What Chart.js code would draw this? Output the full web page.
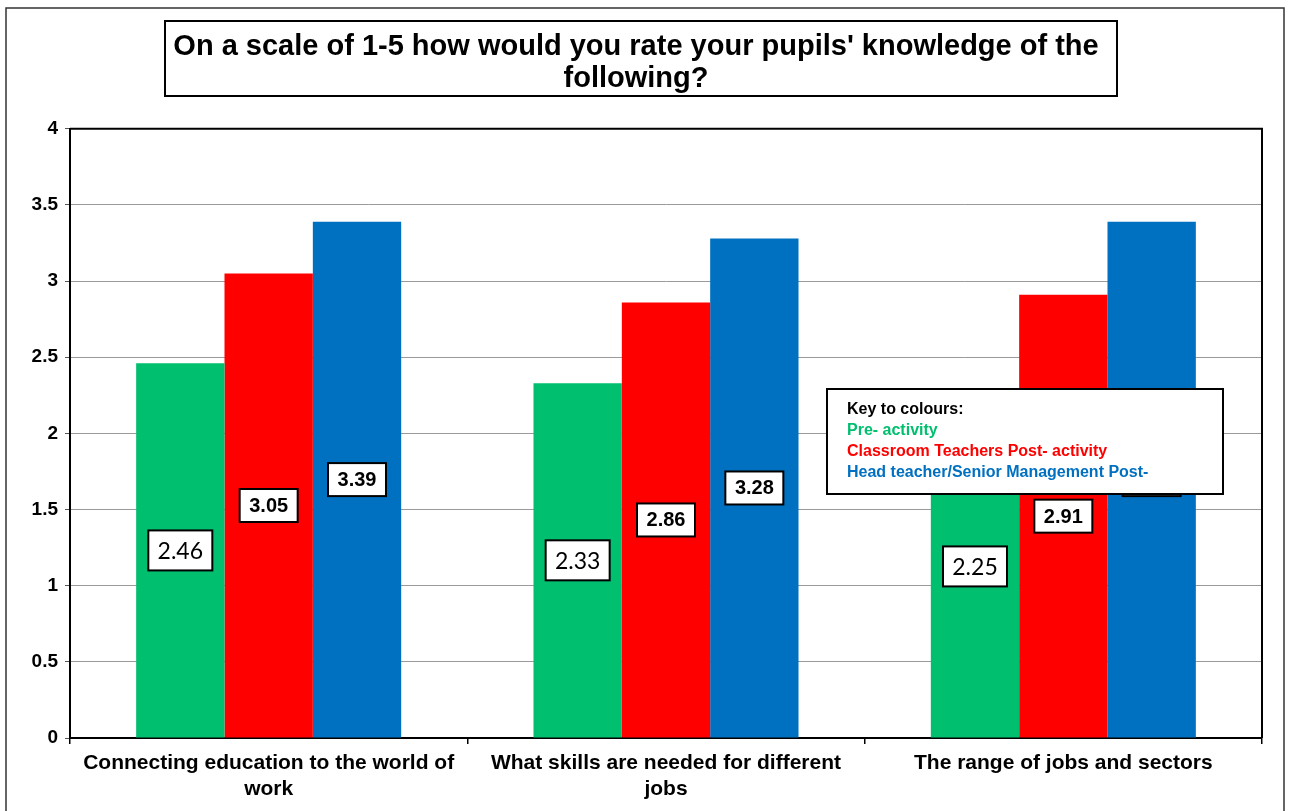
<!DOCTYPE html>
<html>
<head>
<meta charset="utf-8">
<script src="https://cdn.jsdelivr.net/npm/chart.js@4/dist/chart.umd.min.js"></script>
<style>
  html, body { margin: 0; padding: 0; background: #fff; }
  #wrap { width: 1290px; height: 811px; position: relative; }
</style>
</head>
<body>
<div id="wrap"><canvas id="chart"></canvas></div>
<script>
const categories = [
  ['Connecting education to the world of', 'work'],
  ['What skills are needed for different', 'jobs'],
  ['The range of jobs and sectors']
];
const seriesNames = [
  'Pre- activity',
  'Classroom Teachers Post- activity',
  'Head teacher/Senior Management Post-'
];
const preActivity = [2.46, 2.33, 2.25];
const classroomPost = [3.05, 2.86, 2.91];
const headPost = [3.39, 3.28, 3.39];
const seriesColors = ['#00BF6F', '#FF0000', '#0070C0'];
const yTicks = [0, 0.5, 1, 1.5, 2, 2.5, 3, 3.5, 4];
const titleLines = ["On a scale of 1-5 how would you rate your pupils' knowledge of the", 'following?'];

const ARIAL = '"Liberation Sans", Arial, sans-serif';

// frame around the whole chart, box around the title, top/right plot edges
const framePlugin = {
  id: 'frames',
  afterDraw(chart) {
    const ctx = chart.ctx;
    const a = chart.chartArea;
    ctx.save();
    ctx.strokeStyle = '#333';
    ctx.lineWidth = 1.5;
    ctx.strokeRect(6, 8, 1278, 830);
    ctx.strokeStyle = '#000';
    ctx.lineWidth = 2;
    ctx.strokeRect(165, 21, 952, 75);
    ctx.beginPath();
    ctx.moveTo(a.left, a.top);
    ctx.lineTo(a.right, a.top);
    ctx.lineTo(a.right, a.bottom);
    ctx.stroke();
    ctx.restore();
  }
};

// boxed value labels in the middle of each bar
const valueLabels = {
  id: 'valueLabels',
  afterDatasetsDraw(chart) {
    const ctx = chart.ctx;
    ctx.save();
    chart.data.datasets.forEach((ds, di) => {
      const meta = chart.getDatasetMeta(di);
      meta.data.forEach((bar, i) => {
        const v = ds.data[i];
        const txt = v.toFixed(2);
        const cy = (bar.y + bar.base) / 2;
        let w, h;
        if (di === 0) {
          ctx.font = '23px Lato, "Open Sans", sans-serif';
          w = 64; h = 40;
        } else {
          ctx.font = 'bold 20px ' + ARIAL;
          w = 58; h = 33;
        }
        const cx = bar.x;
        ctx.fillStyle = '#fff';
        ctx.fillRect(cx - w / 2, cy - h / 2, w, h);
        ctx.strokeStyle = '#000';
        ctx.lineWidth = 2;
        ctx.strokeRect(cx - w / 2, cy - h / 2, w, h);
        ctx.fillStyle = '#000';
        ctx.textAlign = 'center';
        ctx.textBaseline = 'middle';
        ctx.fillText(txt, cx, cy + 1);
      });
    });
    ctx.restore();
  }
};

// colour key box drawn over the third group
const keyBox = {
  id: 'keyBox',
  afterDraw(chart) {
    const ctx = chart.ctx;
    const x = 827, y = 389, w = 396, h = 105;
    ctx.save();
    ctx.fillStyle = '#fff';
    ctx.fillRect(x, y, w, h);
    ctx.strokeStyle = '#000';
    ctx.lineWidth = 2;
    ctx.strokeRect(x, y, w, h);
    ctx.font = 'bold 16px ' + ARIAL;
    ctx.textAlign = 'left';
    ctx.textBaseline = 'middle';
    ctx.fillStyle = '#000';
    ctx.fillText('Key to colours:', x + 20, y + 21);
    chart.data.datasets.forEach((ds, i) => {
      ctx.fillStyle = ds.backgroundColor;
      ctx.fillText(ds.label, x + 20, y + 42 + i * 20.7);
    });
    ctx.restore();
  }
};

new Chart(document.getElementById('chart'), {
  type: 'bar',
  data: {
    labels: categories,
    datasets: [
      { label: seriesNames[0], data: preActivity, backgroundColor: seriesColors[0] },
      { label: seriesNames[1], data: classroomPost, backgroundColor: seriesColors[1] },
      { label: seriesNames[2], data: headPost, backgroundColor: seriesColors[2] }
    ]
  },
  options: {
    responsive: true,
    maintainAspectRatio: false,
    animation: false,
    layout: { padding: { left: 10, right: 28, top: 0, bottom: 0 } },
    datasets: {
      bar: { categoryPercentage: 0.667, barPercentage: 1.0, borderWidth: 0 }
    },
    plugins: {
      legend: { display: false },
      tooltip: { enabled: false },
      title: {
        display: true,
        text: titleLines,
        color: '#000',
        font: { family: ARIAL, size: 29, weight: 'bold', lineHeight: 1.1 },
        padding: { top: 31, bottom: 34 }
      }
    },
    scales: {
      x: {
        grid: {
          offset: true,
          drawOnChartArea: false,
          drawTicks: true,
          tickLength: 6,
          color: '#000',
          lineWidth: 1.5
        },
        border: { color: '#000', width: 2 },
        ticks: {
          color: '#000',
          font: { family: ARIAL, size: 21, weight: 'bold', lineHeight: 1.2 },
          padding: 7,
          maxRotation: 0,
          autoSkip: false
        },
        afterFit(scale) { scale.height = 73; }
      },
      y: {
        min: 0,
        max: 4,
        afterBuildTicks(scale) { scale.ticks = yTicks.map(v => ({ value: v })); },
        grid: {
          color: '#9a9a9a',
          lineWidth: 1,
          tickLength: 5,
          tickColor: '#555'
        },
        border: { color: '#000', width: 2 },
        ticks: {
          color: '#000',
          font: { family: ARIAL, size: 19, weight: 'bold' },
          padding: 7,
          callback: v => String(v)
        },
        afterFit(scale) { scale.width = 60; }
      }
    }
  },
  plugins: [valueLabels, keyBox, framePlugin]
});
</script>
</body>
</html>
